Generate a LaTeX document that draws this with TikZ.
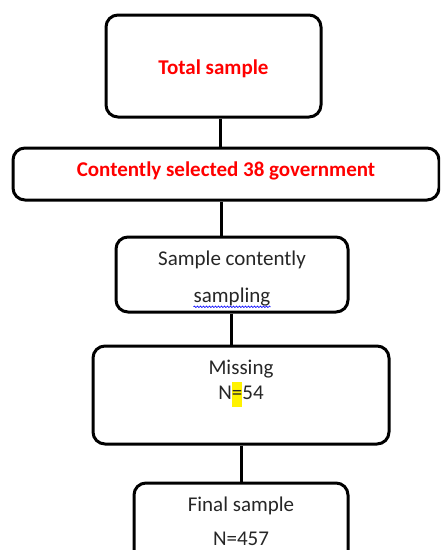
\documentclass[tikz,border=0pt]{standalone}
\usepackage{fontspec}
\setmainfont{Carlito}
\usetikzlibrary{positioning,decorations.pathmorphing}
\definecolor{inkgray}{RGB}{38,38,38}
\setlength{\fboxsep}{0pt}

\begin{document}
\begin{tikzpicture}[x=1pt,y=1pt,
	box/.style={draw, line width=3pt, rounded corners=12pt, inner sep=0pt},
	redtxt/.style={text=red, font=\fontsize{21}{25}\selectfont\bfseries},
	blktxt/.style={text=inkgray, font=\fontsize{21}{25}\selectfont, align=center},
	link/.style={line width=3pt}]
		\useasboundingbox (0,0) rectangle (440,-550);
		\clip (0,0) rectangle (440,-550);
		% boxes
		\node[box, redtxt, minimum width=215pt, minimum height=102pt, text height=20pt, text depth=4pt] (total) at (213.5,-66) {Total sample};
		\node[box, redtxt, minimum width=426pt, minimum height=52pt, text height=14pt, text depth=10pt] (govt) at (226,-174) {Contently selected 38 government};
		\node[box, minimum width=232pt, minimum height=75pt] (conv) at (232,-274.5) {};
		\node[blktxt] (convtop) at (232,-260) {Sample contently};
		\node[blktxt, inner sep=0pt] (convword) at (232,-297) {sampling};
		\draw[blue, line width=0.6pt, decorate, decoration={snake, amplitude=0.8pt, segment length=3pt}]
			([yshift=-0.5pt]convword.south west) -- ([yshift=-0.5pt]convword.south east);
		\node[box, minimum width=296pt, minimum height=98pt] (missing) at (241,-395) {};
		\node[blktxt, anchor=north] (missingtxt) at ([yshift=-12pt]missing.north)
			{Missing\\N\colorbox{yellow}{\strut=}54};
		\node[box, minimum width=214pt, minimum height=80pt] (final) at (241,-523) {};
		\node[blktxt, inner sep=0pt] (finaltxt) at (241,-521) {Final sample\\[9pt]N=457};
		% connectors
		\draw[link] ([xshift=6.5pt]total.south) -- ([xshift=6.5pt]total.south |- govt.north);
		\draw[link] ([xshift=-5pt]govt.south) -- ([xshift=-5pt]govt.south |- conv.north);
		\draw[link] ([xshift=-1pt]conv.south) -- ([xshift=-1pt]conv.south |- missing.north);
		\draw[link] (missing.south) -- (final.north);
\end{tikzpicture}
\end{document}
